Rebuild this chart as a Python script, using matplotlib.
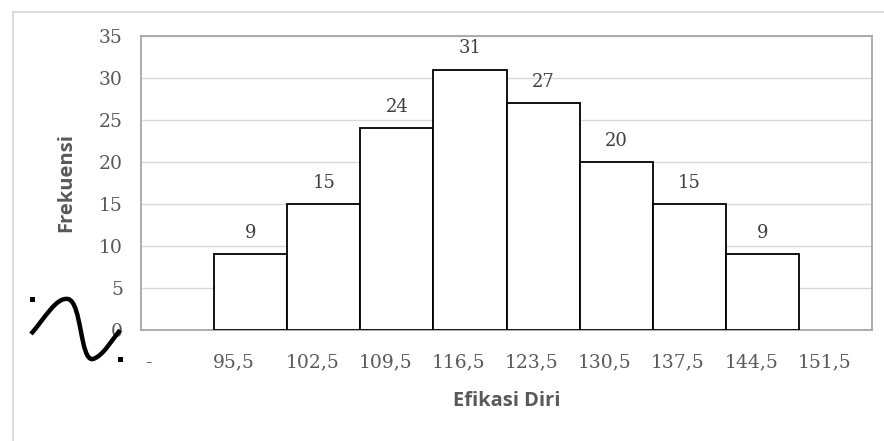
import matplotlib
matplotlib.use("Agg")
import matplotlib.pyplot as plt
from matplotlib.path import Path
from matplotlib.patches import PathPatch, Rectangle
from matplotlib.lines import Line2D

# class limits and frequencies
tick_labels = ["-", "95,5", "102,5", "109,5", "116,5", "123,5", "130,5", "137,5", "144,5", "151,5"]
frekuensi = [9, 15, 24, 31, 27, 20, 15, 9]

W, H = 884, 441
fig = plt.figure(figsize=(W / 100, H / 100), dpi=100)
ax = fig.add_axes([141 / W, 1 - 330 / H, (872 - 141) / W, (330 - 36) / H])

def px(x, y):
    # pixel position -> figure fraction
    return x / W, 1 - y / H

grey_txt = "#595959"
serif = "DejaVu Serif"

# histogram bars, touching each other
lefts = [i + 1 for i in range(len(frekuensi))]
bars = ax.bar(lefts, frekuensi, width=1.0, align="edge", facecolor="white",
              edgecolor="black", linewidth=1.3, zorder=3)
ax.bar_label(bars, labels=[str(v) for v in frekuensi], padding=9,
             fontsize=13, family=serif, color="#404040")

ax.set_xlim(0, 10)
ax.set_ylim(0, 35)
ax.set_yticks(range(0, 36, 5))
ax.yaxis.grid(True, color="#d9d9d9", linewidth=1.0, zorder=0)
ax.set_axisbelow(True)

xt = [0.05] + [k - 0.02 for k in range(1, 10)]
ax.set_xticks(xt)
ax.set_xticklabels(tick_labels)
for lab in ax.get_xticklabels():
    lab.set_horizontalalignment("left")
ax.tick_params(axis="both", length=0, labelsize=13.5, labelcolor=grey_txt)
ax.tick_params(axis="x", pad=17)
ax.tick_params(axis="y", pad=13)
for lab in ax.get_xticklabels() + ax.get_yticklabels():
    lab.set_family(serif)

for side in ["left", "top", "right", "bottom"]:
    ax.spines[side].set_color("#a6a6a6")
    ax.spines[side].set_linewidth(1.3)

ax.set_xlabel("Efikasi Diri", fontsize=14.5, fontweight="bold", color=grey_txt,
              family="Open Sans", labelpad=14)
ax.set_ylabel("Frekuensi", fontsize=14.5, fontweight="bold", color=grey_txt,
              family="Open Sans", labelpad=16)

# outer chart frame (top and left edges)
fig.add_artist(Line2D([13 / W, 1], [1 - 12 / H] * 2, color="#d9d9d9", lw=1.3))
fig.add_artist(Line2D([13 / W] * 2, [0, 1 - 12 / H], color="#d9d9d9", lw=1.3))

# hand-drawn wave mark with its two selection dots
verts = [px(31, 334), px(45, 318), px(56, 297), px(68, 299),
         px(82, 302), px(80, 362), px(93, 359),
         px(103, 356), px(112, 340), px(120, 330)]
codes = [Path.MOVETO] + [Path.CURVE4] * 9
fig.add_artist(PathPatch(Path(verts, codes), facecolor="none", edgecolor="black",
                         lw=3.2, transform=fig.transFigure, capstyle="butt"))
for cx, cy in [(32, 299), (120, 359)]:
    x0, y0 = px(cx - 2.5, cy + 2.5)
    fig.add_artist(Rectangle((x0, y0), 5 / W, 5 / H, facecolor="black",
                             edgecolor="none", transform=fig.transFigure))

fig.savefig("out.png", dpi=100)
